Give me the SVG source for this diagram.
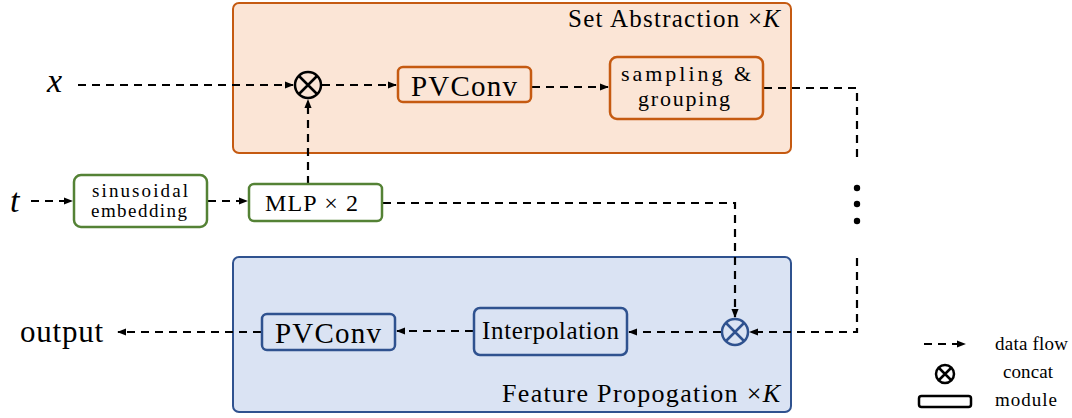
<svg xmlns="http://www.w3.org/2000/svg" width="1072" height="418" viewBox="0 0 1072 418">
<defs>
<style>
.flow{fill:none;stroke:#000;stroke-width:2.2;stroke-dasharray:8 6}
.sa{fill:#fbe5d6;stroke:#c55a11;stroke-width:2}
.fp{fill:#dae3f3;stroke:#2f528f;stroke-width:2}
.gr{fill:#fff;stroke:#548235;stroke-width:2.5}
.or{fill:none;stroke:#c55a11;stroke-width:2.5}
.bl{fill:none;stroke:#2f528f;stroke-width:2.5}
</style>
<marker id="ah" viewBox="0 0 10 10" refX="9" refY="5" markerWidth="4.2" markerHeight="4.2" orient="auto" markerUnits="strokeWidth">
<path d="M0,1 L10,5 L0,9 z" fill="#000"/>
</marker>
</defs>
<g id="set-abstraction">
<rect class="sa" x="233" y="3" width="558" height="150" rx="6"/>
<text font-family="Liberation Serif" x="568" y="27" font-size="25" textLength="212" lengthAdjust="spacing">Set Abstraction ×<tspan font-style="italic">K</tspan></text>
</g>
<g id="feature-propagation">
<rect class="fp" x="233" y="257" width="558" height="155" rx="6"/>
<text font-family="Liberation Serif" x="502" y="402" font-size="26" textLength="278" lengthAdjust="spacing">Feature Propogation ×<tspan font-style="italic">K</tspan></text>
</g>
<g id="connectors">
<path class="flow" d="M78,85 H293" marker-end="url(#ah)"/>
<path class="flow" d="M322,85 H396" marker-end="url(#ah)"/>
<path class="flow" d="M532,87 H608" marker-end="url(#ah)"/>
<path class="flow" d="M764,88 H857 V158"/>
<path class="flow" d="M857,258 V332 H750" marker-end="url(#ah)"/>
<path class="flow" d="M308,184 V100" marker-end="url(#ah)"/>
<path class="flow" d="M31,201 H72" marker-end="url(#ah)"/>
<path class="flow" d="M208,201 H247" marker-end="url(#ah)"/>
<path class="flow" d="M383,203 H735 V317" marker-end="url(#ah)"/>
<path class="flow" d="M721,332 H629" marker-end="url(#ah)"/>
<path class="flow" d="M473,331 H397" marker-end="url(#ah)"/>
<path class="flow" d="M261,332 H118" marker-end="url(#ah)"/>
</g>
<g id="dots" fill="#000">
<circle cx="857" cy="188" r="3.2"/>
<circle cx="857" cy="204" r="3.2"/>
<circle cx="857" cy="221" r="3.2"/>
</g>
<g id="input-x"><text font-family="Liberation Serif" x="47" y="92" font-size="34" font-style="italic">x</text></g>
<g id="input-t"><text font-family="Liberation Serif" x="10" y="212" font-size="34" font-style="italic">t</text></g>
<g id="concat-top">
<circle cx="308" cy="85" r="13" fill="none" stroke="#000" stroke-width="2.5"/>
<path d="M299,76 L317,94 M317,76 L299,94" stroke="#000" stroke-width="2.5"/>
</g>
<g id="pvconv-top">
<rect class="or" x="398" y="67" width="133" height="35" rx="5"/>
<text font-family="Liberation Serif" x="411" y="96" font-size="29" textLength="106" lengthAdjust="spacing">PVConv</text>
</g>
<g id="sampling-grouping">
<rect class="or" x="610" y="57" width="153" height="62" rx="7"/>
<text font-family="Liberation Serif" x="621" y="81" font-size="22" textLength="130" lengthAdjust="spacing">sampling &amp;</text>
<text font-family="Liberation Serif" x="638" y="106" font-size="22" textLength="92" lengthAdjust="spacing">grouping</text>
</g>
<g id="sinusoidal-embedding">
<rect class="gr" x="74" y="175" width="133" height="52" rx="7"/>
<text font-family="Liberation Serif" x="92" y="197" font-size="19" textLength="96" lengthAdjust="spacing">sinusoidal</text>
<text font-family="Liberation Serif" x="91" y="217" font-size="19" textLength="96" lengthAdjust="spacing">embedding</text>
</g>
<g id="mlp">
<rect class="gr" x="249" y="184" width="133" height="37" rx="5"/>
<text font-family="Liberation Serif" x="265" y="211" font-size="24" textLength="93" lengthAdjust="spacing">MLP × 2</text>
</g>
<g id="concat-bottom">
<circle cx="735" cy="332" r="13" fill="none" stroke="#2f528f" stroke-width="2.5"/>
<path d="M726,323 L744,341 M744,323 L726,341" stroke="#2f528f" stroke-width="2.5"/>
</g>
<g id="interpolation">
<rect class="bl" x="474" y="308" width="153" height="47" rx="6"/>
<text font-family="Liberation Serif" x="482" y="339" font-size="25" textLength="137" lengthAdjust="spacing">Interpolation</text>
</g>
<g id="pvconv-bottom">
<rect class="bl" x="262" y="314" width="133" height="36" rx="5"/>
<text font-family="Liberation Serif" x="275" y="343" font-size="29" textLength="106" lengthAdjust="spacing">PVConv</text>
</g>
<g id="output"><text font-family="Liberation Serif" x="20" y="342" font-size="31" textLength="83" lengthAdjust="spacing">output</text></g>
<g id="legend">
<path class="flow" d="M924,344 H965" marker-end="url(#ah)"/>
<text font-family="Liberation Serif" x="995" y="350" font-size="19" textLength="73" lengthAdjust="spacing">data flow</text>
<circle cx="945" cy="374" r="9" fill="none" stroke="#000" stroke-width="2.5"/>
<path d="M939,368 L951,380 M951,368 L939,380" stroke="#000" stroke-width="2.5"/>
<text font-family="Liberation Serif" x="1003" y="378" font-size="19" textLength="50" lengthAdjust="spacing">concat</text>
<rect x="919" y="396" width="52" height="11" rx="2.5" fill="none" stroke="#000" stroke-width="2.5"/>
<text font-family="Liberation Serif" x="995" y="406" font-size="19" textLength="62" lengthAdjust="spacing">module</text>
</g>
</svg>
